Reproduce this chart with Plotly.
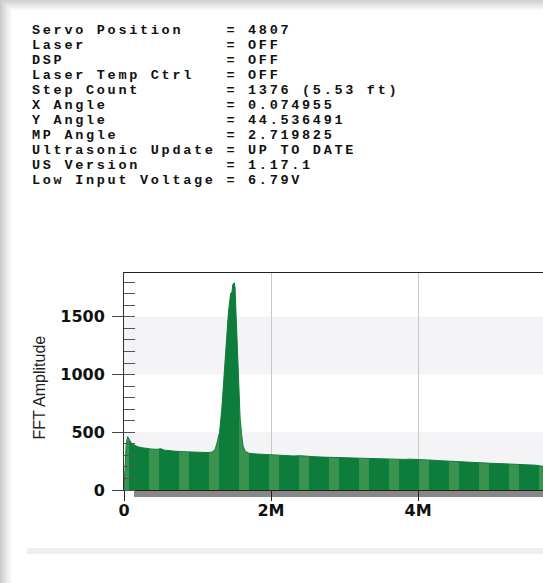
import plotly.graph_objects as go

# ---------------- data ----------------
status_labels = ["Servo Position", "Laser", "DSP", "Laser Temp Ctrl", "Step Count",
                 "X Angle", "Y Angle", "MP Angle", "Ultrasonic Update", "US Version",
                 "Low Input Voltage"]
status_values = ["4807", "OFF", "OFF", "OFF", "1376 (5.53 ft)", "0.074955",
                 "44.536491", "2.719825", "UP TO DATE", "1.17.1", "6.79V"]

freq_mhz = [0.0, 0.01, 0.03, 0.05, 0.07, 0.10, 0.15, 0.20, 0.25, 0.30, 0.37, 0.45,
            0.50, 0.55, 0.60, 0.70, 0.80, 0.90, 1.00, 1.10, 1.15, 1.20, 1.24, 1.27,
            1.30, 1.33, 1.36, 1.39, 1.42, 1.45, 1.47, 1.48, 1.50, 1.51, 1.52, 1.54,
            1.56, 1.58, 1.60, 1.62, 1.65, 1.70, 1.80, 1.90, 2.00, 2.10, 2.20, 2.30,
            2.40, 2.50, 2.60, 2.70, 2.80, 2.90, 3.00, 3.10, 3.20, 3.30, 3.40, 3.50,
            3.60, 3.70, 3.80, 3.90, 4.00, 4.10, 4.20, 4.30, 4.40, 4.50, 4.60, 4.70,
            4.80, 4.90, 5.00, 5.10, 5.20, 5.30, 5.40, 5.50, 5.60, 5.70, 5.75]
fft_amp = [0, 150, 400, 462, 440, 405, 385, 372, 366, 360, 355, 352,
           358, 345, 341, 336, 332, 330, 328, 325, 324, 330, 350, 420,
           500, 700, 1000, 1300, 1535, 1700, 1720, 1780, 1795, 1760, 1600, 1200,
           900, 620, 480, 380, 335, 318, 312, 308, 304, 302, 298, 295,
           297, 290, 288, 285, 283, 280, 279, 276, 272, 270, 268, 266,
           264, 263, 265, 267, 266, 262, 258, 254, 250, 247, 244, 240,
           237, 234, 231, 229, 227, 225, 223, 221, 215, 205, 200]

x_tick_vals = [0, 2e6, 4e6]
x_tick_text = ["0", "2M", "4M"]
y_tick_vals = [0, 500, 1000, 1500]
y_bands = [(0, 500), (1000, 1500)]

# ---------------- layout constants ----------------
W, H = 543, 583
L, T, B = 124, 273, 93
PW, PH = W - L, H - T - B
DARK = "#0e7c3b"
LIGHT = "#3a9450"


def px_x(p):
    return (p - L) / PW


def px_y(p):
    return (H - B - p) / PH


fig = go.Figure()
fig.add_trace(go.Scatter(
    x=[f * 1e6 for f in freq_mhz], y=fft_amp, mode="lines",
    line=dict(color=DARK, width=1), fill="tozeroy",
    fillcolor=LIGHT,
    fillpattern=dict(shape="|", size=30, solidity=0.667, fgcolor=DARK,
                     bgcolor=LIGHT, fillmode="replace"),
    hoverinfo="skip", showlegend=False))

shapes = []
# page background (shadow around the card) and the white card
shapes.append(dict(type="rect", xref="paper", yref="paper", x0=px_x(-5), x1=1.1,
                   y0=px_y(H + 5), y1=px_y(-5), fillcolor="#c9c9c9",
                   line=dict(width=0), layer="below"))
for i, c in enumerate(["#d3d3d3", "#dcdcdc", "#e5e5e5", "#eeeeee", "#f6f6f6", "#ffffff"]):
    shapes.append(dict(type="rect", xref="paper", yref="paper", x0=px_x(1 + i * 2), x1=1.1,
                       y0=px_y(H + 5), y1=px_y(0 + i * 2), fillcolor=c,
                       line=dict(width=0), layer="below"))
for y0, y1 in y_bands:
    shapes.append(dict(type="rect", xref="paper", yref="y", x0=0, x1=1, y0=y0, y1=y1,
                       fillcolor="#f4f4f6", line=dict(width=0), layer="below"))
# grey bar under the x axis
shapes.append(dict(type="rect", xref="paper", yref="paper", x0=px_x(134), x1=1,
                   y0=px_y(497), y1=px_y(490.5), fillcolor="#888888",
                   line=dict(width=0), layer="below"))
# light separator line near the bottom
shapes.append(dict(type="rect", xref="paper", yref="paper", x0=px_x(27), x1=1.05,
                   y0=px_y(554), y1=px_y(548), fillcolor="#eeeeee",
                   line=dict(width=0), layer="below"))

annotations = []
for i, (lab, val) in enumerate(zip(status_labels, status_values)):
    line = f"{lab:<17} = {val}".replace(" ", "&nbsp;")
    annotations.append(dict(
        text=f'<span style="letter-spacing:2.7px">{line}</span>', xref="paper", yref="paper",
        x=px_x(31), y=px_y(30.5 + 15 * i), xanchor="left", yanchor="middle",
        showarrow=False, borderpad=0,
        font=dict(family="Liberation Mono", size=13.5, color="#111111", weight="bold")))
annotations.append(dict(
    text="FFT Amplitude", xref="paper", yref="paper", x=px_x(38.5), y=px_y(388),
    xanchor="center", yanchor="middle", textangle=-90, showarrow=False,
    font=dict(family="Liberation Sans", size=16, color="#222222")))

fig.update_layout(
    width=W, height=H,
    margin=dict(l=L, r=0, t=T, b=B, pad=0),
    paper_bgcolor="white", plot_bgcolor="white",
    shapes=shapes, annotations=annotations,
    xaxis=dict(range=[0, 5.70e6], tickvals=x_tick_vals, ticktext=x_tick_text,
               ticks="outside", ticklen=10, tickcolor="#222222", tickwidth=1,
               showline=True, linecolor="#222222", linewidth=1, mirror=True,
               showgrid=True, gridcolor="#c8c8c8", gridwidth=1, zeroline=False,
               ticklabelstandoff=-4,
               tickfont=dict(family="DejaVu Sans", size=16, color="#111111", weight="bold")),
    yaxis=dict(range=[0, 1880], tickvals=y_tick_vals, ticks="outside", ticklen=11,
               tickcolor="#444444", tickwidth=1, showline=True, linecolor="#333333",
               linewidth=1, showgrid=False, zeroline=False, ticklabelstandoff=4,
               minor=dict(dtick=100, ticks="inside", ticklen=11, tickcolor="#555555",
                          showgrid=False),
               tickfont=dict(family="DejaVu Sans", size=16, color="#111111", weight="bold")),
)

fig.write_html("out.html", config={"displayModeBar": False},
               post_script="document.body.style.margin='0';document.body.style.overflow='hidden';")
